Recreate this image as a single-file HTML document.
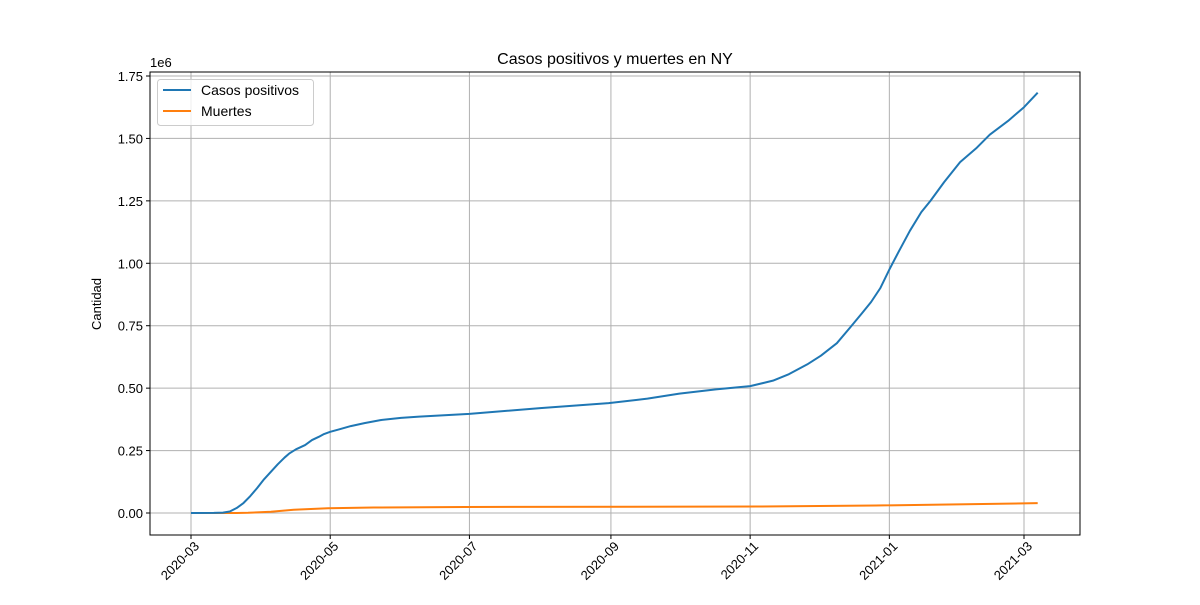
<!DOCTYPE html>
<html><head><meta charset="utf-8"><style>
body{margin:0;background:#fff;}
svg{font-family:"Liberation Sans","DejaVu Sans",sans-serif;}
</style></head><body>
<svg id="chart" width="1200" height="600"></svg>
<script>
const caseDays=[0,10,14,17,20,23,26,29,32,35,38,41,43,46,50,53,56,58,61,65,70,76,83,92,100,122,153,183,200,214,230,245,255,262,270,276,283,289,294,298,302,306,310,315,320,324,330,337,344,350,358,365,371];
const caseVals=[0,300,1500,6000,20000,40000,68000,100000,135000,165000,195000,222000,238000,255000,272000,292000,305000,315000,325000,335000,348000,360000,372000,381000,386000,397000,420000,440000,458000,478000,495000,508000,530000,556000,595000,630000,680000,745000,800000,845000,900000,975000,1045000,1130000,1205000,1250000,1325000,1405000,1460000,1515000,1570000,1625000,1683000];
const deathDays=[0,20,25,35,45,60,80,120,250,300,371];
const deathVals=[0,100,1000,5000,13000,19000,22000,24000,26000,30000,39500];
const yTicks=[0,250000,500000,750000,1000000,1250000,1500000,1750000];
const yLabels=["0.00","0.25","0.50","0.75","1.00","1.25","1.50","1.75"];
const xTickDays=[0,61,122,184,245,306,365];
const xLabels=["2020-03","2020-05","2020-07","2020-09","2020-11","2021-01","2021-03"];

const L=150,R=1080,T=72,B=535;
const xs=d=>191+d*(1024-191)/365;
const ys=v=>513-v*(513-76)/1750000;
const svg=document.getElementById('chart');
const NS='http://www.w3.org/2000/svg';
function mk(tag,attrs,parent){const e=document.createElementNS(NS,tag);for(const k in attrs)e.setAttribute(k,attrs[k]);(parent||svg).appendChild(e);return e;}

yTicks.forEach((v,i)=>{
  const g=mk('line',{x1:L,x2:R,y1:ys(v),y2:ys(v),stroke:'#b0b0b0','stroke-width':1});
  
  
  mk('line',{x1:L-4,x2:L,y1:ys(v),y2:ys(v),stroke:'#000'});
  const t=mk('text',{x:L-7,y:ys(v)+5,'text-anchor':'end','font-size':13});
  t.textContent=yLabels[i];
  
  
});
xTickDays.forEach((d,i)=>{
  const g=mk('line',{x1:xs(d),x2:xs(d),y1:T,y2:B,stroke:'#b0b0b0','stroke-width':1});
  
  
  mk('line',{x1:xs(d),x2:xs(d),y1:B,y2:B+4,stroke:'#000'});
  const ax=xs(d)+9, ay=B+12;
  const t=mk('text',{x:ax,y:ay,'text-anchor':'end','font-size':13,transform:`rotate(-45 ${ax} ${ay})`});
  t.textContent=xLabels[i];
  
  
});
function line(days,vals,color,name){
  const p=mk('polyline',{points:days.map((d,i)=>xs(d)+','+ys(vals[i])).join(' '),fill:'none',stroke:color,'stroke-width':2,'stroke-linejoin':'round'});
  
  
}
line(deathDays,deathVals,'#ff7f0e','muertes-line');
line(caseDays,caseVals,'#1f77b4','casos-line');
const fr=mk('rect',{x:L,y:T,width:R-L,height:B-T,fill:'none',stroke:'#000','stroke-width':1});


</script>
<svg width="1200" height="600" style="position:absolute;left:0;top:0">
<text x="615" y="64" text-anchor="middle" font-size="16">Casos positivos y muertes en NY</text>
<text x="150" y="67" font-size="13">1e6</text>
<text x="101" y="304" text-anchor="middle" font-size="13" transform="rotate(-90 101 304)">Cantidad</text>
<g>
<rect x="157.5" y="79.5" width="156" height="46" rx="3" fill="#fff" fill-opacity="0.8" stroke="#ccc"/>
<line x1="163" x2="191" y1="90" y2="90" stroke="#1f77b4" stroke-width="2"/>
<text x="201" y="95" font-size="14">Casos positivos</text>
<line x1="163" x2="191" y1="111" y2="111" stroke="#ff7f0e" stroke-width="2"/>
<text x="201" y="116" font-size="14">Muertes</text>
</g>
</svg>
</body></html>
